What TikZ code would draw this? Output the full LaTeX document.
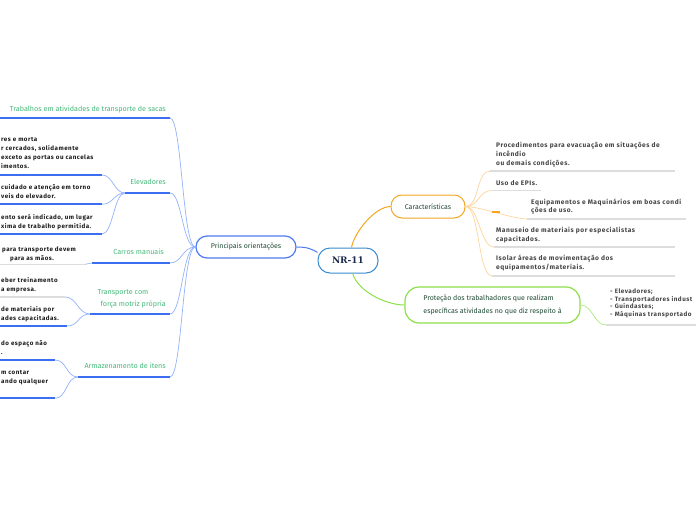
\documentclass[tikz,border=0pt]{standalone}
\usepackage{fontspec}
\setmainfont{Fira Sans}
\newfontfamily\titlefont{DejaVu Serif}
\newfontfamily\leaffont[LetterSpace=8]{Fira Sans}
\usetikzlibrary{positioning,calc}

\definecolor{nrblue}{HTML}{3A8AD2}
\definecolor{nrnavy}{HTML}{1C2B4B}
\definecolor{orientblue}{HTML}{4C7BF3}
\definecolor{barblue}{HTML}{3B6EF0}
\definecolor{linkblue}{HTML}{93B2FA}
\definecolor{branchgreen}{HTML}{45B87A}
\definecolor{topicgreen}{HTML}{1F4A35}
\definecolor{caracorange}{HTML}{F5A623}
\definecolor{linkorange}{HTML}{FDD49A}
\definecolor{protlime}{HTML}{8CE04A}
\definecolor{bargray}{HTML}{DDDDDD}
\definecolor{leafgray}{HTML}{444444}

\begin{document}
\begin{tikzpicture}[x=1pt,y=-1pt,
    topic/.style={draw, fill=white, line width=1pt, inner sep=2pt, align=center, text=topicgreen, font=\fontsize{7}{12.5}\selectfont},
    branch/.style={anchor=north east, inner sep=0pt, align=left, text=branchgreen, font=\fontsize{7.2}{12}\selectfont},
    leftleaf/.style={anchor=north west, inner sep=0pt, align=left, text=black!90, font=\leaffont\bfseries\fontsize{6.2}{9}\selectfont},
    rightleaf/.style={anchor=north west, inner sep=0pt, align=left, text=leafgray, font=\leaffont\bfseries\fontsize{6.6}{8.8}\selectfont},
    bar/.style={line width=2pt, barblue},
    greybar/.style={line width=1.6pt, bargray},
    link/.style={line width=0.7pt, linkblue},
    olink/.style={line width=0.7pt, linkorange}]

    \useasboundingbox (0,0) rectangle (696,520);

    % central topic and main topics
    \node[topic, draw=nrblue, minimum width=60pt, minimum height=25pt, rounded corners=12pt, text=nrnavy, font=\titlefont\bfseries\fontsize{9}{10}\selectfont] (nr) at (348,260.5) {NR-11};
    \node[topic, draw=orientblue, line width=1.2pt, minimum width=100pt, minimum height=22pt, rounded corners=11pt] (orient) at (246,247) {Principais orientações};
    \node[topic, draw=caracorange, minimum width=74pt, minimum height=23pt, rounded corners=11pt] (carac) at (428,206.5) {Características};
    \node[topic, draw=protlime, line width=1.2pt, minimum width=175pt, minimum height=36pt, rounded corners=14pt, align=left] (protec) at (492.5,305) {Proteção dos trabalhadores que realizam\\específicas atividades no que diz respeito à};

    \draw[orientblue, line width=1pt] (orient.east) .. controls +(12,0) and +(-6,-3) .. (nr.165);
    \draw[caracorange, line width=1pt] (nr.75) .. controls +(3,-16) and +(-15,0) .. (carac.west);
    \draw[protlime, line width=1pt] (nr.-70) .. controls +(5,18) and +(-18,0) .. (protec.west);

    % left branches
    \coordinate (sacasL) at (0,118);    \coordinate (sacasR) at (170,118);
    \coordinate (elevL) at (125,193);   \coordinate (elevR) at (170,193);
    \coordinate (carrosL) at (92,263);  \coordinate (carrosR) at (170,263);
    \coordinate (transpL) at (90,314);  \coordinate (transpR) at (170,314);
    \coordinate (armazL) at (78,377);   \coordinate (armazR) at (170,377);

    \node[branch] (bsacas) at (166,102.5) {\strut Trabalhos em atividades de transporte de sacas};
    \node[branch] (belev) at (166,175.8) {\strut Elevadores};
    \node[branch] (bcarros) at (164,246.2) {\strut Carros manuais};
    \node[branch] (btransp) at (166,286.2) {\strut Transporte com\\\hspace*{3pt}força motriz própria};
    \node[branch] (barmaz) at (166,359.5) {\strut Armazenamento de itens};

    \foreach \b in {sacas,elev,carros,transp,armaz}{
        \draw[bar] (\b L) -- (\b R);
        \draw[link] (orient.west) .. controls +(-13,0) and +(12,0) .. (\b R);
    }

    % leaves of the left branches
    \node[leftleaf] (lelevA) at (1,135.3) {\strut res e morta\\r cercados, solidamente\\exceto as portas ou cancelas\\imentos.};
    \node[leftleaf] (lelevB) at (1,182.6) {\strut cuidado e atenção em torno\\veis do elevador.};
    \node[leftleaf] (lelevC) at (1,213) {\strut ento será indicado, um lugar\\xima de trabalho permitida.};
    \node[leftleaf] (lcarros) at (2,244.6) {\strut para transporte devem\\\hspace*{8pt}para as mãos.};
    \node[leftleaf] (ltranspA) at (1,276.3) {\strut eber treinamento\\a empresa.};
    \node[leftleaf] (ltranspB) at (1,304.6) {\strut de materiais por\\ades capacitadas.};
    \node[leftleaf] (larmazA) at (1,339.3) {\strut do espaço não\\.};
    \node[leftleaf] (larmazB) at (1,367.6) {\strut m contar\\ando qualquer};

    \coordinate (elevAR) at (102,175);    \draw[bar] (0,175) -- (elevAR);
    \coordinate (elevBR) at (102,204.3);  \draw[bar] (0,204.3) -- (elevBR);
    \coordinate (elevCR) at (102,234);    \draw[bar] (0,234) -- (elevCR);
    \coordinate (carrosAR) at (85,264.3); \draw[greybar] (0,264.3) -- (carrosAR);
    \coordinate (transpAR) at (65,297);   \draw[greybar] (0,297) -- (transpAR);
    \coordinate (transpBR) at (67,326);   \draw[bar] (0,326) -- (transpBR);
    \coordinate (armazAR) at (55,360);    \draw[bar] (0,360) -- (armazAR);
    \coordinate (armazBR) at (55,398.3);  \draw[bar] (0,398.3) -- (armazBR);

    \foreach \l in {A,B,C}
        \draw[link] (elevL) .. controls +(-11,0) and +(11,0) .. (elev\l R);
    \draw[link] (carrosL) .. controls +(-4,0) and +(4,0) .. (carrosAR);
    \foreach \l in {A,B}{
        \draw[link] (transpL) .. controls +(-12,0) and +(12,0) .. (transp\l R);
        \draw[link] (armazL) .. controls +(-12,0) and +(12,0) .. (armaz\l R);
    }

    % leaves of Caracteristicas
    \node[rightleaf] (procedim) at (496,141.2) {\strut Procedimentos para evacuação em situações de\\incêndio\\ou demais condições.};
    \node[rightleaf] (usoepi) at (496,178.8) {\strut Uso de EPIs.};
    \node[rightleaf] (equipam) at (531,197.8) {\strut Equipamentos e Maquinários em boas condi\\ções de uso.};
    \node[rightleaf] (manuseio) at (496,226.5) {\strut Manuseio de materiais por especialistas\\capacitados.};
    \node[rightleaf] (isolar) at (496,254.5) {\strut Isolar áreas de movimentação dos\\equipamentos/materiais.};

    \coordinate (procL) at (490,171);   \draw[greybar] (procL) -- (675,171);
    \coordinate (usoL) at (492,190.5);  \draw[greybar] (usoL) -- (541,190.5);
    \coordinate (equipL) at (527,219);  \draw[greybar] (equipL) -- (686,219);
    \coordinate (manL) at (494,247);    \draw[greybar] (manL) -- (675,247);
    \coordinate (isoL) at (492,276);    \draw[greybar] (isoL) -- (675,276);

    \foreach \c in {procL,usoL,equipL,manL,isoL}
        \draw[olink] (carac.east) .. controls +(14,0) and +(-14,0) .. (\c);
    \coordinate (stubL) at (492,212);
    \draw[caracorange, line width=1.6pt] (stubL) -- +(8,0);

    % leaf of Protecao
    \node[rightleaf, font=\leaffont\bfseries\fontsize{6.3}{7.5}\selectfont] (maquinas) at (610,288.5) {\strut - Elevadores;\\- Transportadores indust\\- Guindastes;\\- Máquinas transportado};
    \coordinate (maqL) at (606,325);
    \draw[greybar] (maqL) -- (696,325);
    \draw[protlime!70, line width=0.7pt] (protec.east) .. controls +(12,0) and +(-12,0) .. (maqL);
\end{tikzpicture}
\end{document}
